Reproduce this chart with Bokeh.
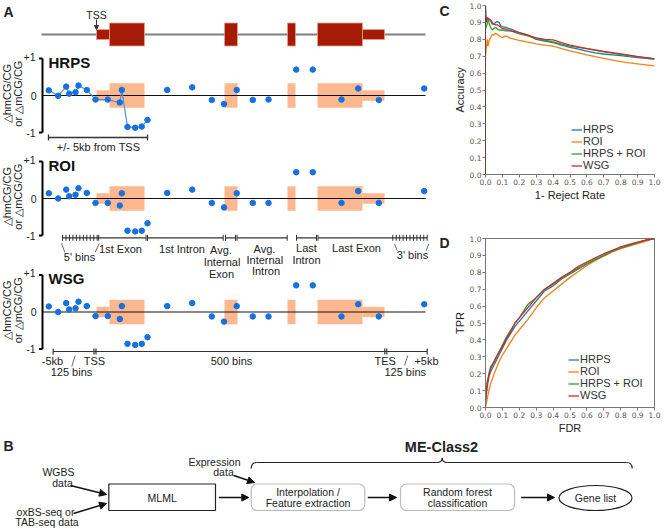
import math
from bokeh.plotting import figure
from bokeh.models import (Range1d, FixedTicker, PrintfTickFormatter, Legend, LegendItem,
                          Arrow, NormalHead, BoxAnnotation)
from bokeh.layouts import column, row
from bokeh.embed import file_html
from bokeh.resources import INLINE
from bokeh.core.properties import value

FONT = "Liberation Sans"

# ---------------- data ----------------
# Panel A: positions of the metagene bins (schematic units) and the methylation deltas
bin_pos = [48.3, 57.7, 65.7, 68.7, 75.0, 78.0, 86.3, 95.0, 107.3, 119.3, 121.3, 127.0, 134.7,
           141.3, 147.0, 166.7, 191.7, 211.3, 223.5, 236.2, 252.3, 268.0, 295.7, 312.3, 341.0,
           357.7, 378.3, 423.7]
hrps_delta = [0.14, -0.01, 0.24, 0.05, 0.09, 0.27, 0.15, -0.11, -0.11, -0.19, 0.15, -0.85, -0.87,
              -0.84, -0.66, 0.15, 0.22, -0.12, -0.23, 0.15, -0.12, -0.11, 0.70, 0.70, -0.11,
              0.19, -0.12, 0.19]
roi_delta = [0.14, 0.0, 0.24, 0.06, 0.10, 0.28, 0.15, -0.12, -0.12, -0.19, 0.14, -0.87, -0.89,
             -0.87, -0.67, 0.15, 0.24, -0.12, -0.24, 0.14, -0.12, -0.12, 0.71, 0.71, -0.12,
             0.20, -0.12, 0.20]
wsg_delta = [0.15, 0.0, 0.24, 0.07, 0.10, 0.28, 0.16, -0.11, -0.11, -0.19, 0.16, -0.86, -0.89,
             -0.86, -0.68, 0.16, 0.24, -0.12, -0.26, 0.16, -0.12, -0.12, 0.72, 0.72, -0.12,
             0.21, -0.12, 0.21]
hrps_connected = 15   # first bins (+/- 5kb from TSS) joined by a line in HRPS

# gene model (schematic units): UTRs thin, coding exons thick
exon_start = [96, 109, 224, 287, 317, 362]
exon_end = [109, 144, 237, 295, 362, 384]
exon_is_utr = [True, False, False, False, False, True]

# Panel C: accuracy vs 1 - reject rate
reject = [0.0, 0.005, 0.01, 0.015, 0.02, 0.03, 0.04, 0.05, 0.06, 0.07, 0.08, 0.09, 0.1, 0.12,
          0.15, 0.2, 0.25, 0.3, 0.35, 0.4, 0.45, 0.5, 0.55, 0.6, 0.65, 0.7, 0.75, 0.8, 0.85,
          0.9, 0.95, 1.0]
acc_hrps = [1.0, 0.90, 0.93, 0.92, 0.92, 0.91, 0.89, 0.89, 0.90, 0.905, 0.90, 0.88, 0.875, 0.87,
            0.86, 0.84, 0.825, 0.80, 0.79, 0.78, 0.765, 0.752, 0.742, 0.73, 0.72, 0.713, 0.708,
            0.703, 0.697, 0.692, 0.687, 0.682]
acc_roi = [0.70, 0.75, 0.80, 0.76, 0.79, 0.81, 0.83, 0.825, 0.835, 0.83, 0.82, 0.815, 0.81,
           0.82, 0.805, 0.793, 0.783, 0.773, 0.766, 0.759, 0.745, 0.732, 0.72, 0.708, 0.697,
           0.687, 0.677, 0.668, 0.661, 0.655, 0.649, 0.643]
acc_hrps_roi = [0.86, 0.88, 0.89, 0.92, 0.90, 0.87, 0.855, 0.865, 0.87, 0.86, 0.855, 0.855,
                0.855, 0.85, 0.85, 0.832, 0.82, 0.805, 0.795, 0.785, 0.772, 0.76, 0.752, 0.745,
                0.735, 0.725, 0.718, 0.71, 0.703, 0.697, 0.69, 0.684]
acc_wsg = [0.9, 0.91, 0.93, 0.925, 0.92, 0.915, 0.9, 0.89, 0.885, 0.885, 0.88, 0.87, 0.865,
           0.86, 0.85, 0.84, 0.825, 0.808, 0.8, 0.796, 0.78, 0.765, 0.755, 0.745, 0.737, 0.728,
           0.721, 0.714, 0.706, 0.698, 0.692, 0.686]

# Panel D: TPR vs FDR
fdr = [0.0, 0.01, 0.02, 0.03, 0.05, 0.075, 0.1, 0.125, 0.15, 0.175, 0.2, 0.25, 0.3, 0.35, 0.4,
       0.45, 0.5, 0.55, 0.6, 0.65, 0.7, 0.75, 0.8, 0.85, 0.9, 0.95, 1.0]
tpr_hrps = [0.03, 0.12, 0.18, 0.21, 0.25, 0.30, 0.35, 0.40, 0.44, 0.48, 0.51, 0.57, 0.63, 0.69,
            0.72, 0.76, 0.79, 0.82, 0.85, 0.875, 0.9, 0.925, 0.945, 0.96, 0.975, 0.99, 1.0]
tpr_roi = [0.0, 0.05, 0.10, 0.14, 0.195, 0.26, 0.31, 0.35, 0.39, 0.43, 0.46, 0.52, 0.59, 0.65,
           0.69, 0.73, 0.77, 0.805, 0.84, 0.87, 0.895, 0.92, 0.94, 0.955, 0.97, 0.985, 1.0]
tpr_hrps_roi = [0.05, 0.15, 0.2, 0.24, 0.27, 0.32, 0.37, 0.42, 0.46, 0.50, 0.53, 0.61, 0.65,
                0.70, 0.73, 0.765, 0.795, 0.825, 0.85, 0.875, 0.9, 0.925, 0.945, 0.96, 0.975,
                0.99, 1.0]
tpr_wsg = [0.04, 0.14, 0.19, 0.23, 0.27, 0.32, 0.36, 0.41, 0.45, 0.50, 0.53, 0.59, 0.65, 0.70,
           0.735, 0.77, 0.80, 0.835, 0.86, 0.885, 0.91, 0.93, 0.95, 0.965, 0.978, 0.99, 1.0]

series_names = ["HRPS", "ROI", "HRPS + ROI", "WSG"]
series_colors = ["#1f77b4", "#ff7f0e", "#2ca02c", "#d62728"]
tick_vals = [i / 10 for i in range(11)]

# ---------------- styles ----------------
DARK_RED = "#a51b05"
SALMON = "#fdb890"
BLUE = "#1570e0"
TXT = "#222222"

# ================= Panel A =================
W_A, H_A = 450, 436
TOP, BOT = 0, H_A
UNIT = 37.0
panels = [("HRPS", hrps_delta, 95.0), ("ROI", roi_delta, 198.0), ("WSG", wsg_delta, 311.5)]

pA = figure(width=W_A, height=H_A, x_range=Range1d(0, W_A), y_range=Range1d(BOT, TOP),
            output_backend="svg", toolbar_location=None, x_axis_location=None,
            y_axis_location=None, min_border=0)
pA.outline_line_color = None
pA.grid.visible = False
pA.extra_y_ranges = {name: Range1d((z - BOT) / UNIT, (z - TOP) / UNIT) for name, _, z in panels}

def txt(p, x, y, s, size="11px", align="center", baseline="middle", bold=False, **kw):
    p.text(x=[x], y=[y], text=[s], text_font=value(FONT), text_font_size=size,
           text_align=align, text_baseline=baseline, text_color=TXT,
           text_font_style="bold" if bold else "normal", **kw)

# gene model
pA.line([41, 425], [34, 34], line_color="#808080", line_width=2)
for s, e, u in zip(exon_start, exon_end, exon_is_utr):
    h = 5 if u else 11.5
    pA.quad(left=[s], right=[e], top=[34 - h], bottom=[34 + h], fill_color=DARK_RED,
            line_color="#e3a08f", line_width=0.8)
txt(pA, 96, 14, "TSS", size="10.5px")
pA.add_layout(Arrow(end=NormalHead(size=4, fill_color="#333", line_color="#333"),
                    x_start=96, y_start=19, x_end=96, y_end=29, line_color="#333", line_width=1))

for name, vals, z in panels:
    yr = dict(y_range_name=name)
    pA.quad(left=exon_start, right=exon_end,
            top=[0.14 if u else 0.33 for u in exon_is_utr],
            bottom=[-0.14 if u else -0.33 for u in exon_is_utr],
            fill_color=SALMON, line_color=None, **yr)
    pA.line([42, 425], [0, 0], line_color="#111", line_width=1.2, **yr)
    if name == "HRPS":
        pA.line(bin_pos[:hrps_connected], vals[:hrps_connected], line_color="#4a8fe0",
                line_width=1.2, **yr)
    pA.scatter(bin_pos, vals, size=5.5, fill_color=BLUE, line_color=BLUE, **yr)
    # y axis bracket
    pA.line([42, 42], [-1, 1], line_color="black", line_width=2, **yr)
    pA.segment(x0=[38.5, 38.5], x1=[42, 42], y0=[-1, 1], y1=[-1, 1], line_color="black",
               line_width=2, **yr)
    pA.text(x=[35, 36, 35], y=[1.05, 0, -1], text=["+1", "0", "-1"], text_font=value(FONT),
            text_font_size="10.5px", text_align="right", text_baseline="middle",
            text_color=TXT, **yr)
    pA.text(x=[6, 17], y=[0.05, 0.05], text=["\u25b3hmCG/CG", "or \u25b3mCG/CG"],
            text_font=value(FONT), text_font_size="11px", text_align="center",
            text_baseline="middle", text_color=TXT, angle=math.pi / 2, **yr)
    pA.text(x=[48], y=[0.9], text=[name], text_font=value(FONT), text_font_size="15px",
            text_font_style="bold", text_align="left", text_baseline="middle",
            text_color="#111", **yr)

LINE_C = "#333333"
# HRPS bracket
pA.line([48, 147], [137, 137], line_color=LINE_C, line_width=1.3)
pA.segment(x0=[48, 147], x1=[48, 147], y0=[134, 134], y1=[140, 140], line_color=LINE_C,
           line_width=1.3)
txt(pA, 98, 146.5, "+/- 5kb from TSS")

# ROI feature bar
ybar = 237.3
segs = [(62, 96.7), (96.7, 145.7), (147, 222.7), (225, 235), (236.5, 286.7), (296, 316),
        (317.5, 392.3), (392.3, 426.7)]
pA.segment(x0=[a for a, b in segs], x1=[b for a, b in segs], y0=[ybar] * len(segs),
           y1=[ybar] * len(segs), line_color=LINE_C, line_width=1.2)
tks = [62 + i * (96.7 - 62) / 10 for i in range(11)] + [98.2, 145.5, 147, 222.7, 225, 235,
                                                         236.5, 286.7, 296, 316, 317.5] + \
      [392.3 + i * (426.7 - 392.3) / 10 for i in range(11)]
pA.segment(x0=tks, x1=tks, y0=[ybar - 3] * len(tks), y1=[ybar + 3] * len(tks),
           line_color=LINE_C, line_width=1)
for s, x, y in [("5' bins", 79, 256), ("1st Exon", 120, 248), ("1st Intron", 181.5, 248),
                ("Avg.", 220.5, 249.5), ("Internal", 221.5, 261.5), ("Exon", 221, 273.5),
                ("Avg.", 264, 248), ("Internal", 264.3, 259.5), ("Intron", 265.5, 270.5),
                ("Last", 306, 247.5), ("Intron", 306, 259), ("Last Exon", 356, 247.5),
                ("3' bins", 412, 254.5)]:
    txt(pA, x, y, s)
pA.segment(x0=[61, 98.7, 394, 428.3], y0=[243, 243, 243.3, 243.3],
           x1=[64.3, 94.7, 396.7, 425.7], y1=[251.7, 251.7, 250, 250],
           line_color="#444", line_width=0.8)

# WSG coordinate bar
ybar2 = 351
pA.line([52.7, 426.7], [ybar2, ybar2], line_color=LINE_C, line_width=1.2)
tk2 = [52.7, 93.5, 95.5, 384.3, 386.3, 426.7]
pA.segment(x0=tk2, x1=tk2, y0=[ybar2 - 3] * 6, y1=[ybar2 + 3] * 6, line_color=LINE_C,
           line_width=1.2)
for s, x, y in [("-5kb", 52, 360.7), ("TSS", 94, 360.7), ("125 bins", 71, 371.7),
                ("500 bins", 231, 360.7), ("TES", 384.7, 360.7), ("+5kb", 426, 360.7),
                ("125 bins", 404.7, 371.7)]:
    txt(pA, x, y, s)
pA.segment(x0=[74.7, 407.3], y0=[355, 355], x1=[71.3, 404], y1=[366, 365],
           line_color="#444", line_width=0.8)

# panel letters
txt(pA, 3, 3, "A", size="14px", align="left", baseline="top", bold=True)
txt(pA, 449, 2, "C", size="14px", align="right", baseline="top", bold=True)
txt(pA, 449, 234, "D", size="14px", align="right", baseline="top", bold=True)


# ================= Panels C & D =================
def curve_fig(h, xs, ys_list, xlabel, ylabel, borders, legend_loc, boxed, left_axis_color):
    left, right, top, bottom = borders
    p = figure(width=215, height=h, x_range=Range1d(0, 1), y_range=Range1d(0, 1),
               output_backend="svg", toolbar_location=None, min_border_left=left,
               min_border_right=right, min_border_top=top, min_border_bottom=bottom)
    p.grid.visible = False
    p.outline_line_color = "#777" if boxed else None
    rend = {}
    for i in [1, 0, 2, 3]:
        rend[i] = p.line(xs, ys_list[i], line_color=series_colors[i], line_width=1.3)
    for ax in (p.xaxis[0], p.yaxis[0]):
        ax.ticker = FixedTicker(ticks=tick_vals)
        ax.formatter = PrintfTickFormatter(format="%.1f")
        ax.major_label_text_font = "DejaVu Sans"
        ax.major_label_text_font_size = "7.5px"
        ax.major_label_text_color = "#555"
        ax.major_tick_out = 3
        ax.major_tick_in = 0
        ax.minor_tick_line_color = None
        ax.axis_line_color = "#777"
        ax.major_tick_line_color = "#777"
        ax.major_label_standoff = 1
        ax.axis_label_standoff = 1
        ax.axis_label_text_font = FONT
        ax.axis_label_text_font_style = "normal"
        ax.axis_label_text_font_size = "11px"
        ax.axis_label_text_color = TXT
    p.yaxis[0].axis_line_color = left_axis_color
    p.xaxis[0].axis_label = xlabel
    p.yaxis[0].axis_label = ylabel
    items = [LegendItem(label=series_names[i], renderers=[rend[i]]) for i in range(4)]
    lg = Legend(items=items, location=legend_loc, border_line_color=None,
                background_fill_alpha=0, label_text_font=FONT, label_text_font_size="11px",
                label_text_color="#333", glyph_width=11, glyph_height=11, label_height=11,
                spacing=0, padding=0, margin=0, label_standoff=1)
    p.add_layout(lg)
    return p

pC = curve_fig(203, reject, [acc_hrps, acc_roi, acc_hrps_roi, acc_wsg], "1- Reject Rate",
               "Accuracy", (34, 11, 5, 25), (86, 3), False, "#7a3b30")
pD = curve_fig(233, fdr, [tpr_hrps, tpr_roi, tpr_hrps_roi, tpr_wsg], "FDR", "TPR",
               (35, 11, 35, 27), (83, 6), True, "#777")

# ================= Panel B =================
W_B, H_B = 665, 93
pB = figure(width=W_B, height=H_B, x_range=Range1d(0, W_B), y_range=Range1d(436 + H_B, 436),
            output_backend="svg", toolbar_location=None, x_axis_location=None,
            y_axis_location=None, min_border=0)
pB.outline_line_color = None
pB.grid.visible = False

txt(pB, 3, 437, "B", size="14px", align="left", baseline="top", bold=True)
for s, x, y in [("WGBS", 58, 471.5), ("data", 62, 482.5), ("oxBS-seq or", 45, 511.5),
                ("TAB-seq data", 46.5, 521.5), ("Expression", 214, 461.5), ("data", 223, 471.5),
                ("MLML", 161.7, 497), ("Interpolation /", 307.5, 491.5),
                ("Feature extraction", 307.5, 502.5), ("Random forest", 457, 491.5),
                ("classification", 457, 502.5), ("Gene list", 595, 497)]:
    txt(pB, x, y, s, size="10.5px")
txt(pB, 441, 446.5, "ME-Class2", size="14.5px", bold=True)

pB.quad(left=[108.3], right=[215], top=[483.5], bottom=[510], fill_color=None,
        line_color="#222", line_width=1.2)
for l, r in [(250.7, 364.3), (400, 514)]:
    pB.add_layout(BoxAnnotation(left=l, right=r, top=483.5, bottom=510, fill_alpha=0,
                                line_color="#222", line_width=1.2, border_radius=6))
pB.ellipse(x=[595], y=[497.5], width=[73], height=[25], fill_color=None, line_color="#222",
           line_width=1.2)

for x0, y0, x1, y1 in [(70, 485, 106, 494), (73, 513, 106, 503), (218.3, 497, 248.3, 497),
                       (233.3, 475, 254, 482), (367.3, 497, 396, 497), (520.7, 497, 554, 497)]:
    pB.add_layout(Arrow(end=NormalHead(size=7, fill_color="#111", line_color="#111"),
                        x_start=x0, y_start=y0, x_end=x1, y_end=y1, line_color="#111",
                        line_width=1.5))
# brace
pB.quadratic(x0=[250.7, 436, 441.7, 626], y0=[468, 462, 457.5, 462],
             x1=[256, 441.7, 447, 631.7], y1=[462, 457.5, 462, 468],
             cx=[251, 441.7, 441.7, 631.7], cy=[462, 462, 462, 462], line_color="#222",
             line_width=1.2)
pB.segment(x0=[256, 447], y0=[462, 462], x1=[436, 626], y1=[462, 462], line_color="#222",
           line_width=1.2)

layout = column(row(pA, column(pC, pD, spacing=0), spacing=0), pB, spacing=0)
open("out.html", "w").write(file_html(layout, INLINE))
